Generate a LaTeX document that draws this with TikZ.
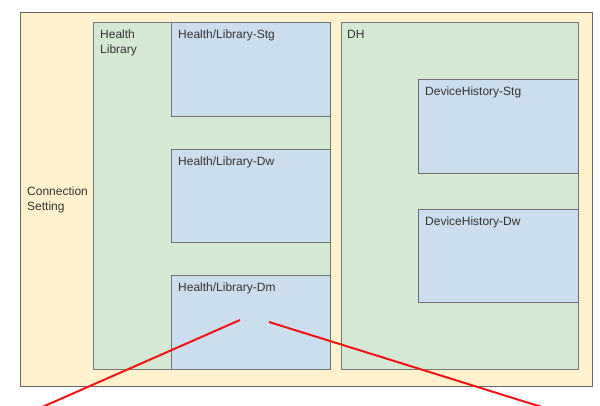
\documentclass[tikz,border=0pt]{standalone}
\usepackage{fontspec}
\setmainfont{Liberation Sans}
\usepackage{tikz}
\usetikzlibrary{positioning}
\definecolor{connyellow}{RGB}{255,242,204}
\definecolor{groupgreen}{RGB}{213,232,212}
\definecolor{dbblue}{RGB}{204,222,238}
\definecolor{edgegray}{RGB}{100,100,100}
\definecolor{markred}{RGB}{240,20,20}
\tikzset{
  conn/.style ={rectangle, draw=edgegray, fill=connyellow, line width=0.9pt,
                anchor=north west, inner sep=0pt},
  group/.style={rectangle, draw=edgegray!85!groupgreen, fill=groupgreen, line width=0.9pt,
                anchor=north west, inner sep=0pt},
  dbbox/.style={rectangle, draw=edgegray!90!dbblue, fill=dbblue, line width=0.9pt,
                anchor=north west, inner sep=0pt},
  lbl/.style  ={anchor=north west, inner sep=0pt, align=left, font=\fontsize{12}{14.5}\selectfont,
                text=black!80},
  redmark/.style={line width=2pt, markred},
}

\begin{document}
\begin{tikzpicture}[x=1pt, y=-1pt]
  \useasboundingbox (0,0) rectangle (600,406);
  % outer connection setting
  \node[conn, minimum width=572pt, minimum height=374pt] (conn) at (20,12) {};
  \node[lbl] (connlbl) at (27,187) {Connection\\Setting};
  % health library group
  \node[group, minimum width=237pt, minimum height=347pt] (hl) at (93,22) {};
  \node[lbl] (hllbl) at (100,30) {Health\\Library};
  \node[dbbox, minimum width=159pt, minimum height=94pt] (hlstg) at (171,22) {};
  \node[dbbox, minimum width=159pt, minimum height=93pt] (hldw) at (171,149) {};
  \node[dbbox, minimum width=159pt, minimum height=94pt] (hldm) at (171,275) {};
  \node[lbl, right=0pt of hlstg.north west, anchor=north west, xshift=7pt, yshift=-8pt] {Health/Library-Stg};
  \node[lbl, right=0pt of hldw.north west, anchor=north west, xshift=7pt, yshift=-8pt] {Health/Library-Dw};
  \node[lbl, right=0pt of hldm.north west, anchor=north west, xshift=7pt, yshift=-8pt] {Health/Library-Dm};
  % device history group
  \node[group, minimum width=237pt, minimum height=347pt] (dh) at (341,22) {};
  \node[lbl] (dhlbl) at (347,30) {DH};
  \node[dbbox, minimum width=160pt, minimum height=94pt] (dhstg) at (418,79) {};
  \node[dbbox, minimum width=160pt, minimum height=93pt] (dhdw) at (418,209) {};
  \node[lbl, right=0pt of dhstg.north west, anchor=north west, xshift=7pt, yshift=-8pt] {DeviceHistory-Stg};
  \node[lbl, right=0pt of dhdw.north west, anchor=north west, xshift=7pt, yshift=-8pt] {DeviceHistory-Dw};
  % red marks
  \coordinate (ma) at (240,320);
  \coordinate (mb) at (269,322);
  \coordinate (ea) at (40,408);
  \coordinate (eb) at (545,408);
  \draw[redmark] (ma) -- (ea);
  \draw[redmark] (mb) -- (eb);
\end{tikzpicture}
\end{document}
